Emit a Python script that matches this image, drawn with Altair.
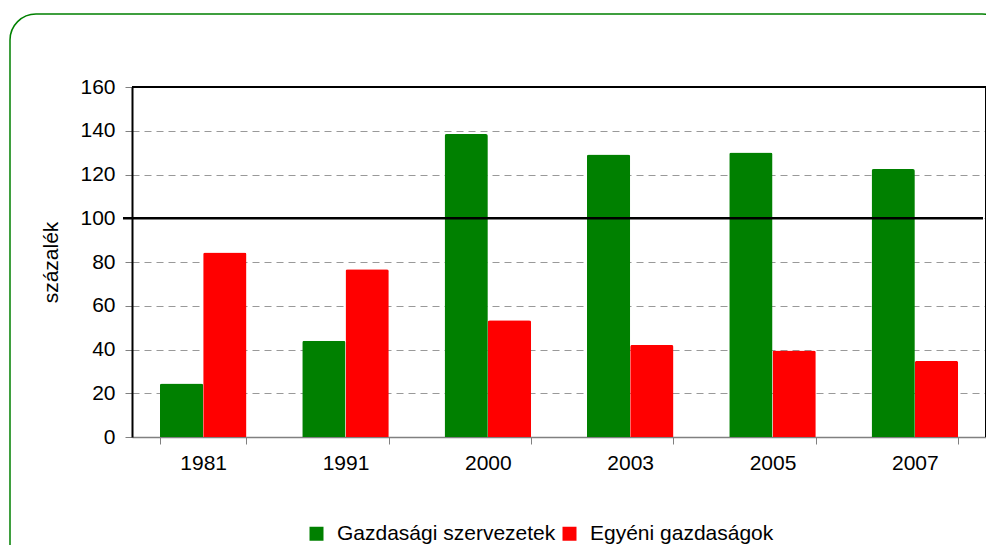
import altair as alt
import pandas as pd

years = ["1981", "1991", "2000", "2003", "2005", "2007"]
gazdasagi = [24.5, 44.0, 138.5, 129.2, 130.1, 122.5]
egyeni = [84.4, 76.7, 53.4, 42.1, 39.5, 34.8]
series = ["Gazdasági szervezetek", "Egyéni gazdaságok"]
colors = ["#008000", "#FF0000"]
y_ticks = [0, 20, 40, 60, 80, 100, 120, 140, 160]
reference_level = [100]

rows = []
for i, yr in enumerate(years):
    rows.append({"year": yr, "series": series[0], "value": gazdasagi[i], "order": 0})
    rows.append({"year": yr, "series": series[1], "value": egyeni[i], "order": 1})
df = pd.DataFrame(rows)

W, H = 854, 350
FONT = "Liberation Sans"

bars = alt.Chart(df).mark_bar(cornerRadiusTopLeft=2, cornerRadiusTopRight=2).encode(
    x=alt.X("year:N", sort=years,
            scale=alt.Scale(paddingInner=0.392, paddingOuter=0.196),
            axis=alt.Axis(title=None, labelAngle=0, tickBand="extent", tickSize=7,
                          tickColor="#808080", domainColor="#808080", domainWidth=1.5,
                          labelFontSize=21, labelPadding=8, labelColor="black",
                          labelFont=FONT, grid=False)),
    xOffset=alt.XOffset("series:N", sort=series),
    y=alt.Y("value:Q",
            scale=alt.Scale(domain=[0, 160], nice=False),
            axis=alt.Axis(title="százalék", values=y_ticks, tickSize=7, tickColor="#808080",
                          domainColor="black", domainWidth=2,
                          labelFontSize=21, labelPadding=10, labelColor="black", labelFont=FONT,
                          titleFontSize=21, titleFont=FONT, titleFontWeight="normal",
                          titleColor="black", titlePadding=18,
                          grid=True, gridColor="#999999", gridDash=[7, 5], gridWidth=1.2)),
    color=alt.Color("series:N", sort=series,
                    scale=alt.Scale(domain=series, range=colors),
                    legend=alt.Legend(title=None, orient="none", direction="horizontal",
                                      legendX=174, legendY=436, symbolType="square",
                                      symbolSize=196, symbolStrokeWidth=0, labelFontSize=21,
                                      labelFont=FONT, labelColor="black", labelOffset=10,
                                      columnPadding=3, labelLimit=400)),
)

ref = alt.Chart(pd.DataFrame({"v": reference_level})).mark_rule(
    color="black", strokeWidth=2.5).encode(
    y="v:Q", x=alt.value(-9), x2=alt.value(W - 3))

top_border = alt.Chart(pd.DataFrame({"a": [0]})).mark_rule(
    color="black", strokeWidth=2).encode(
    x=alt.value(0), x2=alt.value(W), y=alt.value(0))
right_border = alt.Chart(pd.DataFrame({"a": [0]})).mark_rule(
    color="black", strokeWidth=2).encode(
    x=alt.value(W), y=alt.value(0), y2=alt.value(H))

frame = alt.Chart(pd.DataFrame({"a": [0]})).mark_rect(
    fill="transparent", stroke="#008000", strokeWidth=1.5, cornerRadius=26).encode(
    x=alt.value(-122), x2=alt.value(876), y=alt.value(-73), y2=alt.value(500))

chart = alt.layer(frame, bars, ref, top_border, right_border).properties(
    width=W, height=H,
    autosize=alt.AutoSizeParams(type="none"),
    padding={"left": 124, "top": 79, "right": 0, "bottom": 108},
).configure_view(stroke=None).configure(background="white")

chart.save("out.html", embed_options={"renderer": "svg", "actions": False})
